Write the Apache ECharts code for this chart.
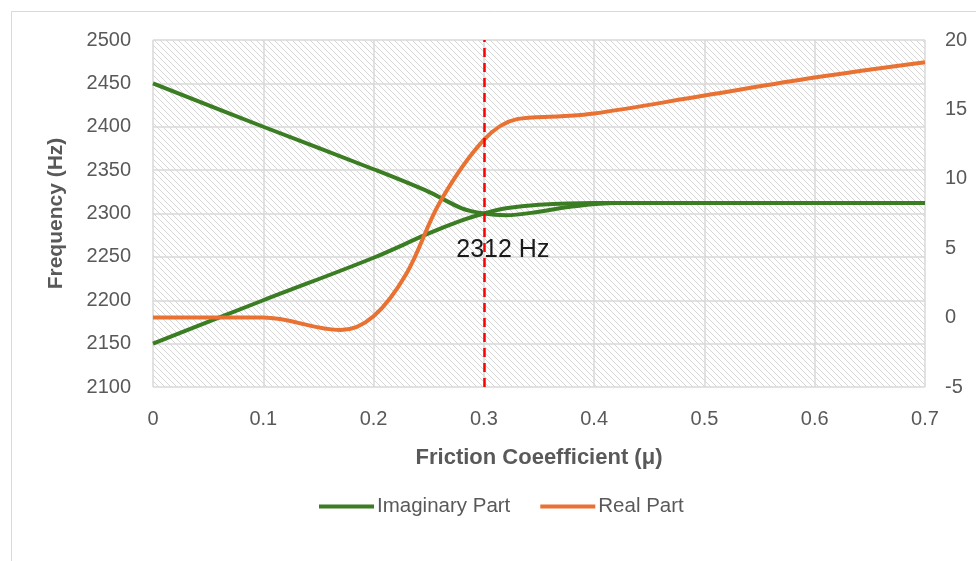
<!DOCTYPE html>
<html>
<head>
<meta charset="utf-8">
<script src="https://cdn.jsdelivr.net/npm/echarts@6/dist/echarts.min.js"></script>
<style>
  html, body { margin: 0; padding: 0; background: #fff; }
  #chart { width: 976px; height: 561px; }
</style>
</head>
<body>
<div id="chart"></div>
<script>
// Friction coefficient sample points (μ)
const muUpper = [0, 0.1, 0.2, 0.25, 0.28, 0.3, 0.32, 0.35, 0.38, 0.42, 0.5, 0.6, 0.7];
const muLower = [0, 0.1, 0.2, 0.25, 0.28, 0.3, 0.32, 0.35, 0.4, 0.5, 0.6, 0.7];
const muReal  = [0, 0.1, 0.17, 0.2, 0.23, 0.26, 0.3, 0.33, 0.37, 0.4, 0.5, 0.6, 0.7];

// Imaginary part (Hz): the two modes that coalesce near μ = 0.3
const imagUpper = [2450, 2400, 2351, 2325, 2306, 2300, 2298, 2302, 2308, 2312, 2312, 2312, 2312];
const imagLower = [2150, 2200, 2249, 2277, 2292, 2300, 2306, 2310, 2312, 2312, 2312, 2312];

// Real part (right axis)
const realPart = [0, 0, -0.9, 0.1, 3.2, 8.3, 12.8, 14.3, 14.5, 14.7, 16, 17.3, 18.4];

const xTicks = [0, 0.1, 0.2, 0.3, 0.4, 0.5, 0.6, 0.7];
const criticalMu = 0.3;
const criticalLabel = '2312 Hz';

const pairs = (xs, ys) => xs.map((x, i) => [x, ys[i]]);

// Diagonal hatch used as the plot background
function hatchPattern() {
  const c = document.createElement('canvas');
  const s = 6;
  c.width = s; c.height = s;
  const g = c.getContext('2d');
  g.fillStyle = '#ffffff';
  g.fillRect(0, 0, s, s);
  g.strokeStyle = '#d6d6d6';
  g.lineWidth = 1;
  g.beginPath();
  g.moveTo(-1, -1); g.lineTo(s + 1, s + 1);
  g.moveTo(-1, s - 1); g.lineTo(1, s + 1);
  g.moveTo(s - 1, -1); g.lineTo(s + 1, 1);
  g.stroke();
  return c;
}

const font = '"Liberation Sans", Arial, sans-serif';
const axisGray = '#595959';
const green = '#3B7D23';
const orange = '#E97132';

const chart = echarts.init(document.getElementById('chart'), null, { renderer: 'canvas' });
chart.setOption({
  animation: false,
  backgroundColor: '#ffffff',
  graphic: [{
    type: 'rect', left: 9, top: 9, silent: true, z: -10,
    shape: { width: 990, height: 580 },
    style: { fill: 'none', stroke: '#d9d9d9', lineWidth: 1 }
  }],
  grid: {
    left: 153, right: 51, top: 40, bottom: 174,
    show: true, borderWidth: 0,
    backgroundColor: { image: hatchPattern(), repeat: 'repeat' }
  },
  legend: {
    top: 491, left: 314,
    itemWidth: 55, itemHeight: 4, itemGap: 30,
    icon: 'rect',
    textStyle: { fontFamily: font, fontSize: 20.5, color: axisGray, padding: [0, 0, 0, -2] },
    data: ['Imaginary Part', 'Real Part']
  },
  xAxis: {
    type: 'value', min: 0, max: 0.7, interval: 0.1,
    name: 'Friction Coeefficient (μ)', nameLocation: 'middle', nameGap: 60,
    nameTextStyle: { fontFamily: font, fontSize: 22, fontWeight: 'bold', color: axisGray },
    axisLine: { show: false }, axisTick: { show: false },
    axisLabel: { fontFamily: font, fontSize: 20, color: axisGray, margin: 22,
      formatter: v => { const t = xTicks.find(k => Math.abs(k - v) < 1e-9); return t === undefined ? '' : String(t); } },
    splitLine: { show: true, lineStyle: { color: '#d9d9d9', width: 1.5 } }
  },
  yAxis: [{
    type: 'value', min: 2100, max: 2500, interval: 50,
    name: 'Frequency (Hz)', nameLocation: 'middle', nameGap: 86, nameRotate: 90,
    nameTextStyle: { fontFamily: font, fontSize: 21, fontWeight: 'bold', color: axisGray },
    axisLine: { show: false }, axisTick: { show: false },
    axisLabel: { fontFamily: font, fontSize: 20, color: axisGray, margin: 22,
      formatter: v => String(v) },
    splitLine: { show: true, lineStyle: { color: '#d9d9d9', width: 1.5 } }
  }, {
    type: 'value', min: -5, max: 20, interval: 5, position: 'right',
    axisLine: { show: false }, axisTick: { show: false },
    axisLabel: { fontFamily: font, fontSize: 20, color: axisGray, margin: 20 },
    splitLine: { show: false }
  }],
  series: [{
    name: 'Imaginary Part', type: 'line', yAxisIndex: 0,
    data: pairs(muUpper, imagUpper), smooth: 0.35, symbol: 'none',
    lineStyle: { color: green, width: 4 }, itemStyle: { color: green },
    markLine: {
      silent: true, symbol: 'none',
      lineStyle: { color: '#FF0000', width: 2.5, type: [9, 6] },
      label: { show: false },
      data: [{ xAxis: criticalMu }]
    },
    markPoint: {
      symbol: 'circle', symbolSize: 0,
      label: { show: true, formatter: criticalLabel, fontFamily: font,
        fontSize: 25, color: '#1a1a1a', offset: [19, 0] },
      data: [{ coord: [criticalMu, 2258] }]
    }
  }, {
    name: 'Imaginary Part', type: 'line', yAxisIndex: 0,
    data: pairs(muLower, imagLower), smooth: 0.35, symbol: 'none',
    lineStyle: { color: green, width: 4 }, itemStyle: { color: green }
  }, {
    name: 'Real Part', type: 'line', yAxisIndex: 1,
    data: pairs(muReal, realPart), smooth: 0.35, symbol: 'none',
    lineStyle: { color: orange, width: 4 }, itemStyle: { color: orange }
  }]
});
</script>
</body>
</html>
